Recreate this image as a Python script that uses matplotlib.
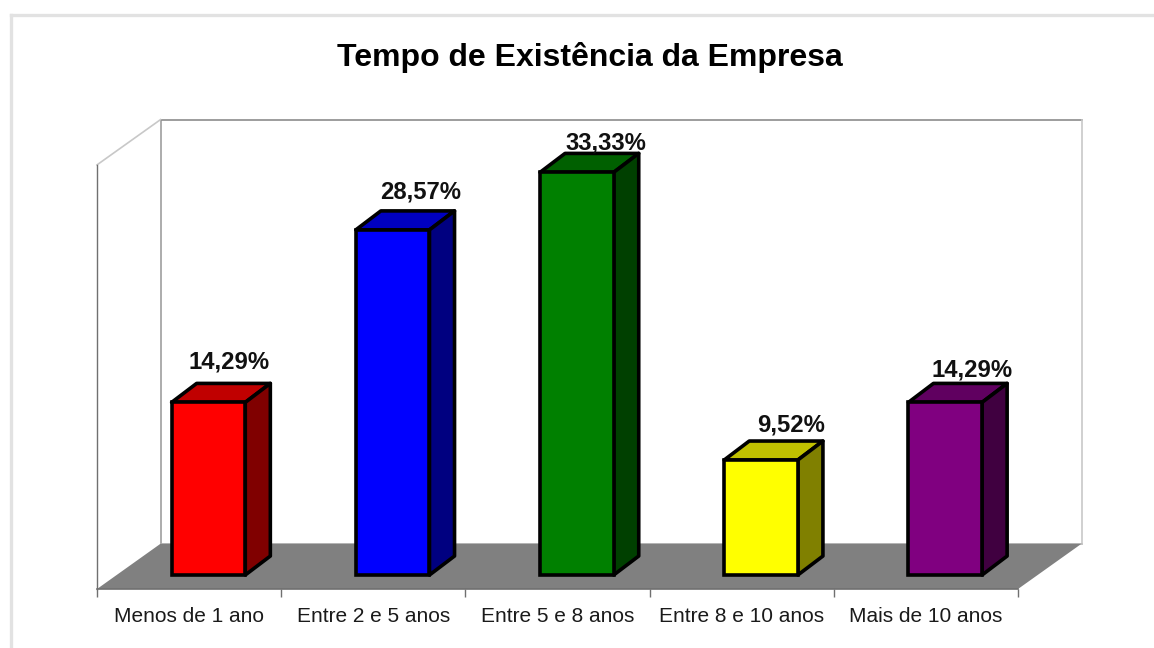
import matplotlib
matplotlib.use("Agg")
import matplotlib.pyplot as plt
from matplotlib.patches import Polygon
from matplotlib.lines import Line2D

# Chart data
categories = ["Menos de 1 ano", "Entre 2 e 5 anos", "Entre 5 e 8 anos", "Entre 8 e 10 anos", "Mais de 10 anos"]
values = [14.29, 28.57, 33.33, 9.52, 14.29]
front_colors = ["#ff0000", "#0000ff", "#008000", "#ffff00", "#800080"]
top_colors = ["#c00000", "#0000c0", "#006000", "#c0c000", "#600060"]
side_colors = ["#800000", "#000080", "#004000", "#808000", "#400040"]
title = "Tempo de Existência da Empresa"

# 3D look, in data units
floor_dx, floor_dy = 0.345, 3.75
bar_dx, bar_dy = 0.136, 1.57
floor_front = -1.16
wall_top = 33.95
bar_width = 0.40
bar_left = 0.405
# label placement relative to the middle of the bar front
label_dx = [0.11, 0.15, 0.16, 0.165, 0.145]
label_dy = [2.37, 2.2, 1.47, 1.94, 1.74]

plt.rcParams["font.family"] = ["Liberation Sans", "DejaVu Sans"]
fig = plt.figure(figsize=(11.54, 6.48), dpi=100)
ax = fig.add_axes([0, 0, 1, 1])
ax.set_xlim(-97 / 184.2, (1154 - 97) / 184.2)
ax.set_ylim(-73 / 12.08, 575 / 12.08)
n = len(categories)

# back walls and floor
back_bottom = floor_front + floor_dy
back_top = wall_top + floor_dy
ax.add_patch(Polygon([(0, floor_front), (n, floor_front), (n + floor_dx, back_bottom), (floor_dx, back_bottom)],
                     facecolor="#808080", edgecolor="none", zorder=1))
ax.plot([floor_dx, floor_dx], [back_bottom, back_top], color="#a6a6a6", lw=1.3, zorder=0.5)
ax.plot([floor_dx, n + floor_dx], [back_top, back_top], color="#8c8c8c", lw=1.2, zorder=0.5)
ax.plot([n + floor_dx, n + floor_dx], [back_bottom, back_top], color="#c8c8c8", lw=1.2, zorder=0.5)
ax.plot([floor_dx, n + floor_dx], [back_bottom, back_bottom], color="#c0c0c0", lw=1.2, zorder=0.8)
ax.plot([0, floor_dx], [wall_top, back_top], color="#c8c8c8", lw=1.2, zorder=0.5)

# bars
for i, v in enumerate(values):
    x0 = i + bar_left
    x1 = x0 + bar_width
    ax.bar(x0, v, width=bar_width, align="edge", color=front_colors[i], edgecolor="black", linewidth=2.6, zorder=3)
    ax.add_patch(Polygon([(x0, v), (x1, v), (x1 + bar_dx, v + bar_dy), (x0 + bar_dx, v + bar_dy)],
                         facecolor=top_colors[i], edgecolor="black", linewidth=2.6, joinstyle="round", zorder=2))
    ax.add_patch(Polygon([(x1, 0), (x1 + bar_dx, bar_dy), (x1 + bar_dx, v + bar_dy), (x1, v)],
                         facecolor=side_colors[i], edgecolor="black", linewidth=2.6, joinstyle="round", zorder=2))
    ax.text(x0 + bar_width / 2 + label_dx[i], v + label_dy[i], f"{v:.2f}%".replace(".", ","),
            ha="center", va="bottom", fontsize=17.2, fontweight="bold", color="#111111", zorder=4)

# axis lines and category labels
for side in ["top", "right"]:
    ax.spines[side].set_visible(False)
ax.spines["bottom"].set_position(("data", floor_front))
ax.spines["bottom"].set_bounds(0, n)
ax.spines["bottom"].set_color("#707070")
ax.spines["bottom"].set_linewidth(1.2)
ax.spines["left"].set_position(("data", 0))
ax.spines["left"].set_bounds(floor_front, wall_top)
ax.spines["left"].set_color("#707070")
ax.spines["left"].set_linewidth(1.0)
ax.set_yticks([])
ax.set_xticks(range(n + 1))
ax.set_xticklabels([])
ax.set_xticks([i + 0.5 for i in range(n)], minor=True)
ax.set_xticklabels(categories, minor=True, fontsize=15, color="#1a1a1a")
ax.tick_params(axis="x", which="major", length=6, color="#707070", width=1)
ax.tick_params(axis="x", which="minor", length=0, pad=13)

# outer frame, only top and left show
fig.add_artist(Line2D([11 / 1154, 1], [1 - 15 / 648, 1 - 15 / 648], color="#e2e2e2", lw=2.4))
fig.add_artist(Line2D([11 / 1154, 11 / 1154], [0, 1 - 15 / 648], color="#e2e2e2", lw=2.4))

fig.text(590 / 1154, 1 - 57.5 / 648, title, ha="center", va="center", fontsize=23, fontweight="bold")

fig.savefig("out.png", dpi=100, facecolor="white")
